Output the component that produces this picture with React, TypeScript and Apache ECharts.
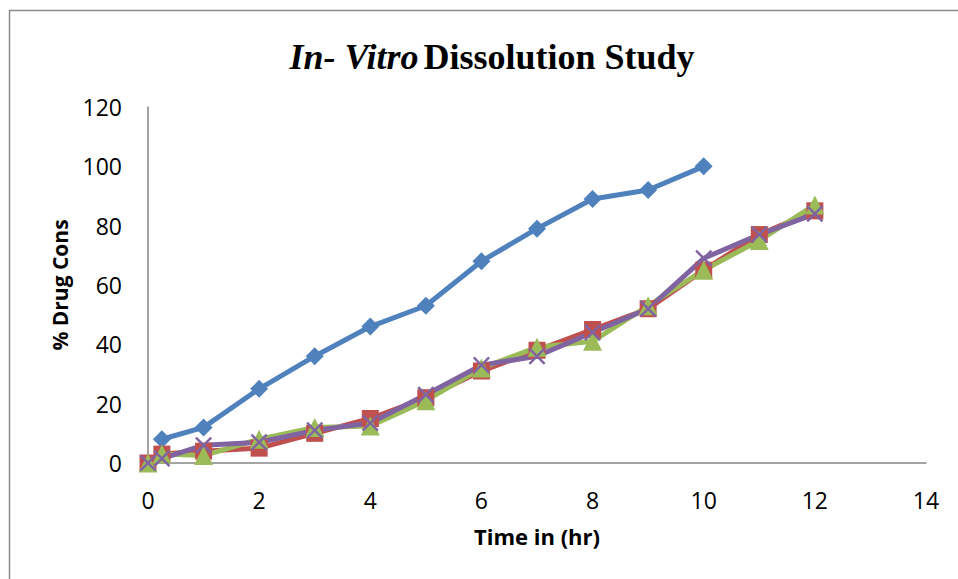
import React, { useEffect, useRef } from "react";
import * as echarts from "echarts";

const timeA = [0.25, 1, 2, 3, 4, 5, 6, 7, 8, 9, 10];
const seriesA = [8, 12, 25, 36, 46, 53, 68, 79, 89, 92, 100];
const timeB = [0, 0.25, 1, 2, 3, 4, 5, 6, 7, 8, 9, 10, 11, 12];
const seriesB = [0, 3, 4, 5, 10, 15, 22, 31, 38, 45, 52, 65, 77, 85];
const seriesC = [0, 3, 2.5, 8, 12, 12.5, 21, 32, 39, 41, 53, 65, 75, 87];
const seriesD = [0, 1.5, 6, 7, 11, 13.5, 23, 33, 36, 44, 52, 69, 77, 84];

const xTicks = [0, 2, 4, 6, 8, 10, 12, 14];
const yTicks = [0, 20, 40, 60, 80, 100, 120];

const X_SYMBOL =
  "path://M0,1L1,0L5,4L9,0L10,1L6,5L10,9L9,10L5,6L1,10L0,9L4,5Z";

function pairs(xs: number[], ys: number[]) {
  return xs.map((x, i) => [x, ys[i]]);
}

export default function App() {
  const ref = useRef<HTMLDivElement>(null);
  useEffect(() => {
    if (!ref.current) return;
    const chart = echarts.init(ref.current, undefined, { renderer: "svg" });
    const labelFont = "'Open Sans', 'Noto Sans', sans-serif";
    const serif = "'Liberation Serif', 'Times New Roman', serif";
    const mk = (
      name: string,
      data: number[][],
      color: string,
      symbol: string,
      size: number
    ) => ({
      name,
      type: "line",
      data,
      symbol,
      symbolSize: size,
      lineStyle: { color, width: 5 },
      itemStyle: { color },
      emphasis: { disabled: true },
    });
    chart.setOption({
      animation: false,
      backgroundColor: "#ffffff",
      title: {
        text: "{i|In- Vitro} {b|Dissolution Study}",
        left: 487,
        textAlign: "center",
        top: 34,
        textStyle: {
          rich: {
            i: {
              fontFamily: serif,
              fontStyle: "italic",
              fontWeight: "bold",
              fontSize: 36,
              color: "#000",
            },
            b: {
              fontFamily: serif,
              fontWeight: "bold",
              fontSize: 36,
              color: "#000",
            },
          },
        },
      },
      graphic: [
        {
          type: "rect",
          shape: { x: 9.5, y: 10.5, width: 980, height: 600 },
          style: { fill: "none", stroke: "#8a8a8a", lineWidth: 1.5 },
          silent: true,
        },
      ],
      grid: { left: 148, right: 32, top: 107, bottom: 116 },
      xAxis: {
        type: "value",
        min: xTicks[0],
        max: xTicks[xTicks.length - 1],
        interval: 2,
        name: "Time in (hr)",
        nameLocation: "middle",
        nameGap: 62,
        nameTextStyle: {
          fontFamily: labelFont,
          fontWeight: "bold",
          fontSize: 22,
          color: "#000",
        },
        axisLine: { show: true, lineStyle: { color: "#868686", width: 1.5 } },
        axisTick: { show: false },
        splitLine: { show: false },
        axisLabel: {
          margin: 25,
          fontFamily: labelFont,
          fontSize: 23,
          color: "#000",
        },
      },
      yAxis: {
        type: "value",
        min: yTicks[0],
        max: yTicks[yTicks.length - 1],
        interval: 20,
        name: "% Drug Cons",
        nameLocation: "middle",
        nameGap: 78,
        nameRotate: 90,
        nameTextStyle: {
          fontFamily: labelFont,
          fontWeight: "bold",
          fontSize: 21,
          color: "#000",
        },
        axisLine: { show: true, lineStyle: { color: "#868686", width: 1.5 } },
        axisTick: { show: false },
        splitLine: { show: false },
        axisLabel: {
          margin: 26,
          fontFamily: labelFont,
          fontSize: 23,
          color: "#000",
        },
      },
      series: [
        mk("F1", pairs(timeA, seriesA), "#4F81BD", "diamond", 18),
        mk("F2", pairs(timeB, seriesB), "#C0504D", "rect", 17),
        mk("F3", pairs(timeB, seriesC), "#9BBB59", "triangle", 19),
        mk("F4", pairs(timeB, seriesD), "#8064A2", X_SYMBOL, 17),
      ],
    });
    return () => chart.dispose();
  }, []);
  return (
    <div
      ref={ref}
      style={{ position: "fixed", left: 0, top: 0, width: 958, height: 579 }}
    />
  );
}
